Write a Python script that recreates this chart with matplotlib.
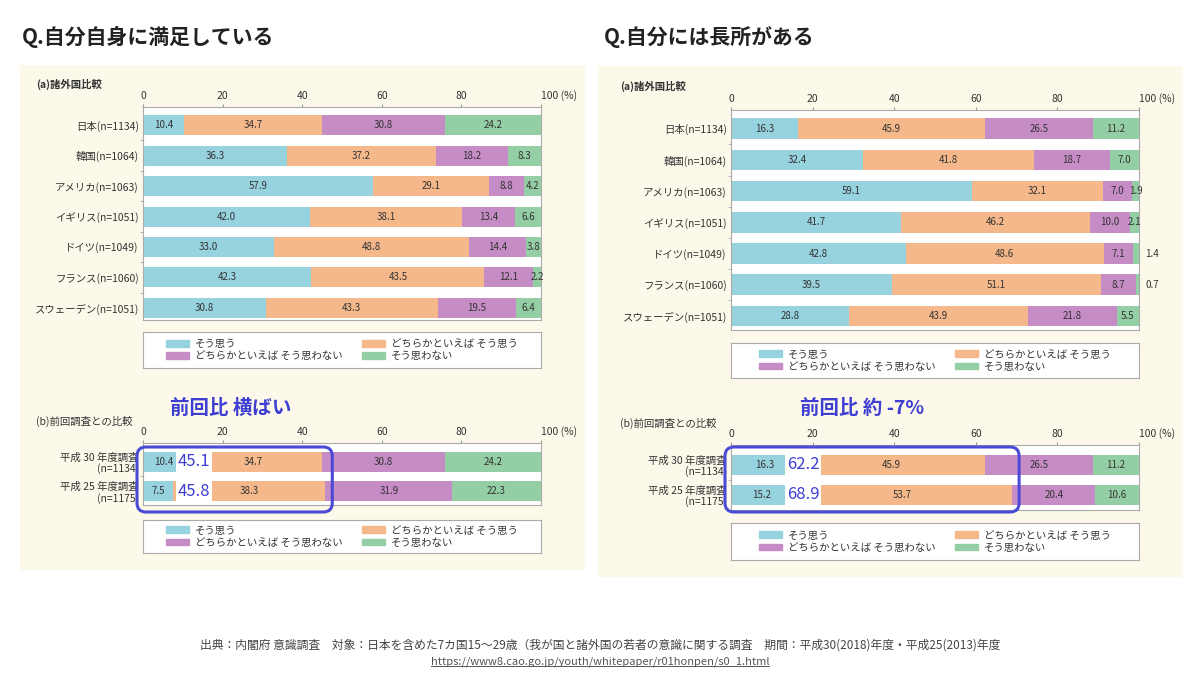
import matplotlib.pyplot as plt
import numpy as np
from matplotlib.patches import Rectangle, FancyBboxPatch, Patch

plt.rcParams['font.family'] = ['Noto Sans CJK JP', 'DejaVu Sans']

# ---- data ----
countries = ['日本(n=1134)', '韓国(n=1064)', 'アメリカ(n=1063)', 'イギリス(n=1051)',
             'ドイツ(n=1049)', 'フランス(n=1060)', 'スウェーデン(n=1051)']
surveys = ['平成 30 年度調査\n(n=1134)', '平成 25 年度調査\n(n=1175)']
answers = ['そう思う', 'どちらかといえば そう思う', 'どちらかといえば そう思わない', 'そう思わない']

# Q. 自分自身に満足している
sat_yes = [10.4, 36.3, 57.9, 42.0, 33.0, 42.3, 30.8]
sat_some = [34.7, 37.2, 29.1, 38.1, 48.8, 43.5, 43.3]
sat_someno = [30.8, 18.2, 8.8, 13.4, 14.4, 12.1, 19.5]
sat_no = [24.2, 8.3, 4.2, 6.6, 3.8, 2.2, 6.4]
sat_prev_yes = [10.4, 7.5]
sat_prev_some = [34.7, 38.3]
sat_prev_someno = [30.8, 31.9]
sat_prev_no = [24.2, 22.3]

# Q. 自分には長所がある
str_yes = [16.3, 32.4, 59.1, 41.7, 42.8, 39.5, 28.8]
str_some = [45.9, 41.8, 32.1, 46.2, 48.6, 51.1, 43.9]
str_someno = [26.5, 18.7, 7.0, 10.0, 7.1, 8.7, 21.8]
str_no = [11.2, 7.0, 1.9, 2.1, 1.4, 0.7, 5.5]
str_prev_yes = [16.3, 15.2]
str_prev_some = [45.9, 53.7]
str_prev_someno = [26.5, 20.4]
str_prev_no = [11.2, 10.6]

colors = ['#97d2df', '#f4b88a', '#c68cc5', '#93cea4']
txt = '#333333'
blue = '#3e3ed2'

W, H = 1200, 678
fig = plt.figure(figsize=(W / 100, H / 100), dpi=100)


def px_axes(x0, y0, x1, y1, **kw):
    return fig.add_axes([x0 / W, 1 - y1 / H, (x1 - x0) / W, (y1 - y0) / H], **kw)


# background layer in pixel coordinates
bg = px_axes(0, 0, W, H, zorder=0)
bg.set_xlim(0, W)
bg.set_ylim(H, 0)
bg.axis('off')
bg.add_patch(Rectangle((20, 65), 565, 505, color='#fcf9ea', lw=0))
bg.add_patch(Rectangle((598, 66), 585, 511, color='#fcf9ea', lw=0))

bg.text(22, 37, 'Q.自分自身に満足している', fontsize=15, fontweight='bold', color='#222222', va='center')
bg.text(604, 37, 'Q.自分には長所がある', fontsize=15, fontweight='bold', color='#222222', va='center')

bg.text(36, 84, '(a)諸外国比較', fontsize=7.5, fontweight='bold', color=txt, va='center')
bg.text(36, 421, '(b)前回調査との比較', fontsize=7.5, color=txt, va='center')
bg.text(620, 86, '(a)諸外国比較', fontsize=7.5, fontweight='bold', color=txt, va='center')
bg.text(620, 423, '(b)前回調査との比較', fontsize=7.5, color=txt, va='center')

bg.text(600, 645, '出典：内閣府 意識調査　対象：日本を含めた7カ国15～29歳（我が国と諸外国の若者の意識に関する調査　'
        '期間：平成30(2018)年度・平成25(2013)年度', fontsize=8.5, color='#444444', ha='center', va='center')
url = bg.text(600, 662, 'https://www8.cao.go.jp/youth/whitepaper/r01honpen/s0_1.html',
              fontsize=8, color='#555555', ha='center', va='center')


def stacked(ax, labels, series, ylim, bar_h=0.66):
    y = np.arange(len(labels))
    left = np.zeros(len(labels))
    for vals, c in zip(series, colors):
        vals = np.array(vals)
        ax.barh(y, vals, left=left, color=c, height=bar_h, lw=0)
        for yi, l, v in zip(y, left, vals):
            if v < 1.5:
                ax.text(101.5, yi, f'{v:.1f}', ha='left', va='center', fontsize=7, color=txt, clip_on=False)
            else:
                ax.text(l + v / 2, yi, f'{v:.1f}', ha='center', va='center', fontsize=7, color=txt)
        left = left + vals
    ax.set_xlim(0, 100)
    ax.set_ylim(*ylim)
    ax.set_yticks(y)
    ax.set_yticklabels(labels, fontsize=7.5, color=txt, ha='right', linespacing=1.1)
    ax.set_yticks(y[:-1] + 0.5, minor=True)
    ax.set_xticks([0, 20, 40, 60, 80, 100])
    ax.set_xticklabels(['0', '20', '40', '60', '80', '100 (%)'], fontsize=7.5, color=txt)
    ax.xaxis.tick_top()
    lbls = ax.get_xticklabels()
    lbls[-1].set_horizontalalignment('left')
    ax.tick_params(axis='x', length=2, pad=2, color='#999999')
    ax.tick_params(axis='y', which='major', length=0, pad=3)
    ax.tick_params(axis='y', which='minor', length=2, color='#aaaaaa')
    for s in ax.spines.values():
        s.set_color('#aaaaaa')
        s.set_linewidth(0.8)
    ax.set_facecolor('white')
    return left


def legend_box(x0, y0, x1, y1):
    lax = px_axes(x0, y0, x1, y1)
    lax.set_xticks([])
    lax.set_yticks([])
    for s in lax.spines.values():
        s.set_color('#aaaaaa')
        s.set_linewidth(0.8)
    order = [0, 2, 1, 3]
    handles = [Patch(color=colors[i]) for i in order]
    lax.legend(handles, [answers[i] for i in order], ncol=2, loc='center', frameon=False,
               fontsize=7.5, handlelength=2.2, handleheight=0.6, labelspacing=0.2,
               columnspacing=1.8, handletextpad=0.6, labelcolor=txt)


# left panel
ax1 = px_axes(143, 107, 541, 320)
stacked(ax1, countries, [sat_yes, sat_some, sat_someno, sat_no], (6.4, -0.6))
legend_box(143, 332, 541, 368)
ax2 = px_axes(143, 443, 541, 505)
stacked(ax2, surveys, [sat_prev_yes, sat_prev_some, sat_prev_someno, sat_prev_no], (1.48, -0.65))
legend_box(143, 520, 541, 553)

# right panel
ax3 = px_axes(731, 110, 1139, 330)
stacked(ax3, countries, [str_yes, str_some, str_someno, str_no], (6.45, -0.6))
legend_box(731, 343, 1139, 378)
ax4 = px_axes(731, 445, 1139, 510)
stacked(ax4, surveys, [str_prev_yes, str_prev_some, str_prev_someno, str_prev_no], (1.5, -0.65))
legend_box(731, 523, 1139, 560)

# top-level annotations
top = px_axes(0, 0, W, H, zorder=5)
top.set_xlim(0, W)
top.set_ylim(H, 0)
top.axis('off')
top.patch.set_alpha(0)


def highlight(ax, x_px0, x_px1, yes, some, title, num_frac, title_x):
    totals = np.array(yes) + np.array(some)
    right = x_px0 + totals.max() / 100 * (x_px1 - x_px0) + 7
    top.add_patch(FancyBboxPatch((x_px0 - 6, 447), right - (x_px0 - 6), 65,
                                 boxstyle='round,pad=0,rounding_size=9', fill=False,
                                 ec='#4a4ad6', lw=2.2))
    top.text(title_x, 408, title, fontsize=14, fontweight='bold', color=blue, va='center')
    for i, t in enumerate(totals):
        ax.text(num_frac, i, f'{t:.1f}', transform=ax.get_yaxis_transform(), fontsize=12,
                color=blue, ha='left', va='center',
                bbox=dict(boxstyle='square,pad=0.1', fc='white', ec='none'), zorder=6)


highlight(ax2, 143, 541, sat_prev_yes, sat_prev_some, '前回比 横ばい', 0.088, 170)
highlight(ax4, 731, 1139, str_prev_yes, str_prev_some, '前回比 約 -7%', 0.137, 800)

# underline the url
fig.canvas.draw()
bb = url.get_window_extent().transformed(bg.transData.inverted())
bg.plot([bb.x0, bb.x1], [bb.y0 - 1, bb.y0 - 1], color='#555555', lw=0.7)

fig.savefig('out.png', dpi=100)
